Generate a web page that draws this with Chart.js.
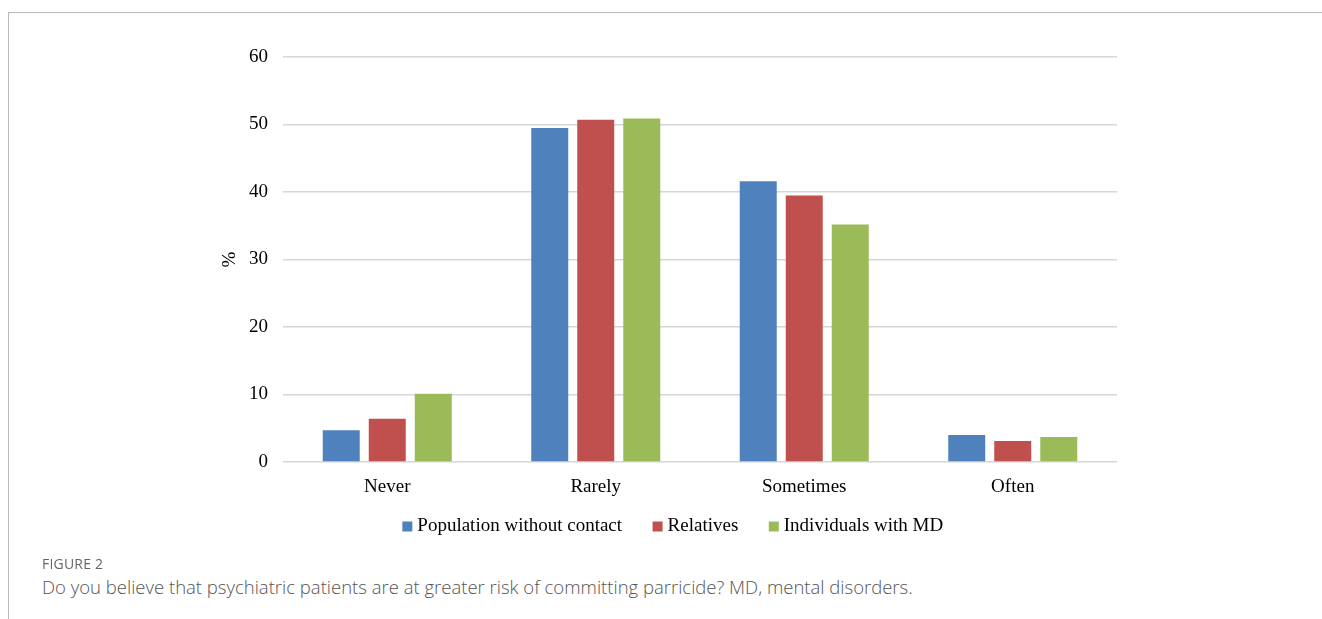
<!DOCTYPE html>
<html>
<head>
<meta charset="utf-8">
<script src="https://cdn.jsdelivr.net/npm/chart.js@4/dist/chart.umd.min.js"></script>
<style>
  html, body { margin: 0; padding: 0; background: #fff; }
  body { width: 1322px; height: 619px; position: relative; overflow: hidden; }
  .frame { position: absolute; left: 8px; top: 12px; right: -2px; bottom: -2px;
           border-top: 1.5px solid #b8b8b8; border-left: 1.5px solid #b8b8b8; }
  .chart-box { position: absolute; left: 0; top: 14px; width: 1322px; height: 556px; }
  .fig-label { position: absolute; left: 42px; top: 554px; font-family: "Open Sans", sans-serif;
               font-size: 14px; color: #666; letter-spacing: 0.2px; }
  .fig-caption { position: absolute; left: 42px; top: 574px; font-family: "Open Sans", sans-serif;
                 font-size: 18.5px; font-weight: 300; color: #555; }
</style>
</head>
<body>
<div class="frame"></div>
<div class="chart-box"><canvas id="c"></canvas></div>
<div class="fig-label">FIGURE 2</div>
<div class="fig-caption">Do you believe that psychiatric patients are at greater risk of committing parricide? MD, mental disorders.</div>
<script>
const categories = ["Never", "Rarely", "Sometimes", "Often"];
const populationWithoutContact = [4.7, 49.5, 41.6, 4.0];
const relatives = [6.4, 50.7, 39.5, 3.1];
const individualsWithMD = [10.1, 50.9, 35.2, 3.7];
const seriesNames = ["Population without contact", "Relatives", "Individuals with MD"];
const yTicks = [0, 10, 20, 30, 40, 50, 60];

const serif = "'Liberation Serif', 'Times New Roman', serif";
const FONT_SIZE = 19;
const LEGEND_GAP = 35;

// Pull the legend up so it sits just below the category labels,
// nudged a little to the right
const legendOffset = {
  id: "legendOffset",
  afterLayout(chart) {
    const lg = chart.legend;
    if (!lg) return;
    const h = lg.bottom - lg.top;
    lg.top = chart.chartArea.bottom + 20;
    lg.bottom = lg.top + h;
    lg.left += 9;
    lg.right += 9;
  }
};

new Chart(document.getElementById("c"), {
  type: "bar",
  data: {
    labels: categories,
    datasets: [
      { label: seriesNames[0], data: populationWithoutContact, backgroundColor: "#4f81bd" },
      { label: seriesNames[1], data: relatives, backgroundColor: "#c0504d" },
      { label: seriesNames[2], data: individualsWithMD, backgroundColor: "#9bbb59" }
    ]
  },
  plugins: [legendOffset],
  options: {
    responsive: true,
    maintainAspectRatio: false,
    animation: false,
    categoryPercentage: 0.662,
    barPercentage: 0.804,
    layout: { padding: { left: 215, right: 205, top: 43, bottom: 0 } },
    plugins: {
      tooltip: { enabled: false },
      legend: {
        position: "bottom",
        labels: {
          font: { family: serif, size: FONT_SIZE },
          color: "#000",
          usePointStyle: true,
          pointStyle: "rect",
          boxWidth: 1,
          boxHeight: 10,
          padding: LEGEND_GAP
        }
      }
    },
    scales: {
      x: {
        grid: { display: false, drawTicks: false },
        border: { display: false },
        ticks: { font: { family: serif, size: FONT_SIZE }, color: "#000", padding: 14 },
        afterFit: (s) => { s.height = 44; }
      },
      y: {
        min: 0,
        max: 60,
        afterBuildTicks: (s) => { s.ticks = yTicks.map(v => ({ value: v })); },
        grid: { color: "#d6d6d6", lineWidth: 1.5, drawTicks: false },
        border: { display: false },
        ticks: { font: { family: serif, size: FONT_SIZE }, color: "#000", padding: 15 },
        title: { display: true, text: "%", font: { family: serif, size: FONT_SIZE }, color: "#000", padding: { top: 4, bottom: 0 } },
        afterFit: (s) => { s.width = 68; }
      }
    }
  }
});
</script>
</body>
</html>
